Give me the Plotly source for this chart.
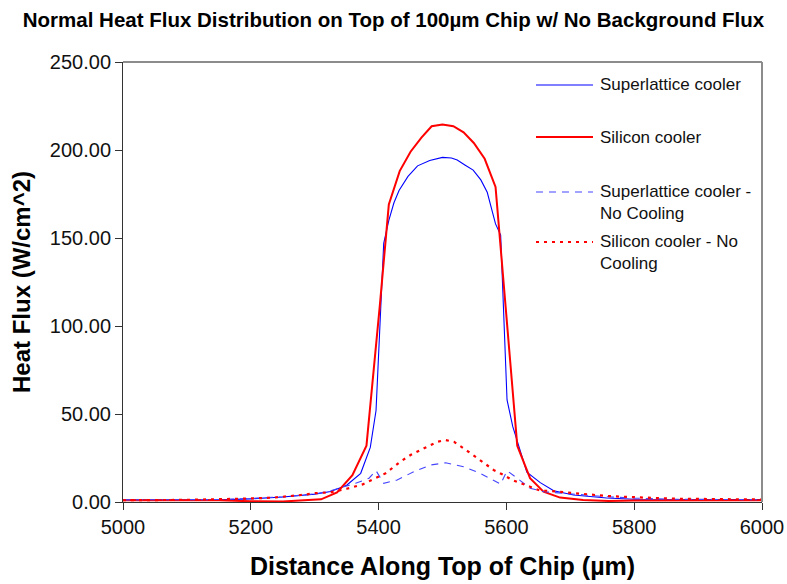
import plotly.graph_objects as go

# ---- data ----
sl_x = [5000, 5150, 5200, 5250, 5300, 5325, 5350, 5372, 5387, 5396, 5408, 5416, 5424, 5432, 5446, 5461, 5480, 5500,
        5514, 5523, 5535, 5548, 5560, 5570, 5583, 5591, 5601, 5610, 5632, 5653, 5674, 5705, 5757, 5800, 6000]
sl_y = [1.2, 1.2, 1.8, 2.8, 4.5, 6.0, 9.5, 16.3, 31, 52, 147, 160, 170, 177, 185, 191, 194, 195.8,
        195.5, 194.3, 191.5, 188.6, 183, 176, 158, 151.7, 58, 42.8, 17, 11, 6.4, 4.0, 2.3, 1.6, 1.4]

si_x = [5000, 5150, 5200, 5250, 5310, 5335, 5359, 5381, 5402, 5416, 5433, 5450, 5467, 5483, 5500, 5517, 5533,
        5549, 5566, 5583, 5599, 5617, 5637, 5658, 5684, 5720, 5760, 5800, 6000]
si_y = [1.0, 1.0, 0.4, 0.3, 1.5, 5.5, 15.3, 32, 112, 169, 188, 199, 207, 213.5, 214.5, 213.5, 210,
        204, 195, 179, 110, 32, 13.5, 5.9, 2.5, 1.2, 0.6, 0.8, 1.0]

slnc_x = [5000, 5150, 5200, 5250, 5300, 5325, 5364, 5385, 5396, 5408, 5429, 5455, 5481, 5505, 5533, 5559,
          5591, 5601, 5617, 5637, 5660, 5700, 5757, 5800, 5860, 6000]
slnc_y = [1.2, 1.4, 2.0, 3.0, 4.5, 6.4, 10.6, 13.5, 17.8, 10.6, 12.5, 17.2, 21, 22.3, 20, 16.3,
          10.2, 17.8, 13.5, 7.8, 5.8, 4.5, 3.0, 2.2, 1.6, 1.3]

sinc_x = [5000, 5100, 5200, 5236, 5280, 5300, 5325, 5350, 5375, 5398, 5411, 5434, 5450, 5471, 5492, 5505,
          5518, 5544, 5565, 5580, 5596, 5609, 5637, 5653, 5664, 5726, 5757, 5809, 5861, 6000]
sinc_y = [1.0, 1.2, 2.0, 2.5, 4.0, 5.0, 5.5, 7.5, 10.0, 13.8, 16.3, 22.9, 26.7, 30.5, 34.2, 35.2,
          34.2, 27.7, 22.0, 18.2, 15.3, 12.5, 8.7, 6.4, 6.4, 4.5, 3.4, 2.6, 1.9, 1.4]

names = ["Superlattice cooler", "Silicon cooler", "Superlattice cooler -<br>No Cooling",
         "Silicon cooler - No<br>Cooling"]
x_ticks = [5000, 5200, 5400, 5600, 5800, 6000]
y_ticks = [0, 50, 100, 150, 200, 250]

FONT = "Liberation Sans, Arial, sans-serif"

styles = [
    dict(color="#0000FF", width=1.1, dash="solid"),
    dict(color="#FF0000", width=2, dash="solid"),
    dict(color="#4444FF", width=1.1, dash="7px,6px"),
    dict(color="#FF0000", width=2.2, dash="3px,5px"),
]
series = [(sl_x, sl_y), (si_x, si_y), (slnc_x, slnc_y), (sinc_x, sinc_y)]

fig = go.Figure()
for (xs, ys), nm, st in zip(series, names, styles):
    fig.add_trace(go.Scatter(x=xs, y=ys, mode="lines", name=nm, line=st, showlegend=False))

# plot area in pixels: x 123..762, y 62..502
L, R, T, B = 123, 762, 62, 502
W, H = 787, 584

def px_x(p):
    return (p - L) / (R - L)

def px_y(p):
    return (B - p) / (B - T)

# manual legend (Excel style, long line samples)
legend_rows = [85, 137, 192, 242]
text_centers = [85, 137, 202.5, 252.5]
for i, (ly, ty) in enumerate(zip(legend_rows, text_centers)):
    st = styles[i]
    fig.add_shape(type="line", xref="paper", yref="paper",
                  x0=px_x(536), x1=px_x(593), y0=px_y(ly), y1=px_y(ly),
                  line=dict(color=st["color"], width=st["width"], dash=st["dash"]))
    fig.add_annotation(xref="paper", yref="paper", x=px_x(598), y=px_y(ty),
                       xanchor="left", yanchor="middle", align="left", showarrow=False,
                       text=names[i], font=dict(family=FONT, size=17, color="#111"))

# gray top/right frame
fig.add_shape(type="line", xref="paper", yref="paper", x0=0, x1=1, y0=1, y1=1,
              line=dict(color="#8c8c8c", width=2))
fig.add_shape(type="line", xref="paper", yref="paper", x0=1, x1=1, y0=0, y1=1,
              line=dict(color="#8c8c8c", width=2))

fig.update_layout(
    width=W, height=H,
    margin=dict(l=L, r=W - R, t=T, b=H - B, autoexpand=False),
    paper_bgcolor="white", plot_bgcolor="white",
    font=dict(family=FONT, color="#111"),
    title=dict(text="<b>Normal Heat Flux Distribution on Top of 100µm Chip w/ No Background Flux</b>",
               x=0.5, xref="container", xanchor="center", y=1 - 20 / H, yanchor="middle",
               font=dict(family=FONT, size=20.5, color="#000")),
)
fig.update_xaxes(range=[5000, 6000], tickvals=x_ticks, ticks="outside", ticklen=7, tickcolor="#333",
                 showline=True, linecolor="#333", linewidth=1, showgrid=False, zeroline=False,
                 automargin=False,
                 tickfont=dict(family=FONT, size=20, color="#111"),
                 title=dict(text="<b>Distance Along Top of Chip (µm)</b>", standoff=20,
                            font=dict(family=FONT, size=25, color="#000")))
fig.update_yaxes(range=[0, 250], tickvals=y_ticks, tickformat=".2f", ticks="outside", ticklen=7,
                 tickcolor="#333", showline=True, linecolor="#333", linewidth=1, showgrid=False,
                 zeroline=False, automargin=False, tickfont=dict(family=FONT, size=20, color="#111"),
                 title=dict(text="<b>Heat Flux (W/cm^2)</b>", standoff=12,
                            font=dict(family=FONT, size=24, color="#000")))

fig.write_html("out.html")
